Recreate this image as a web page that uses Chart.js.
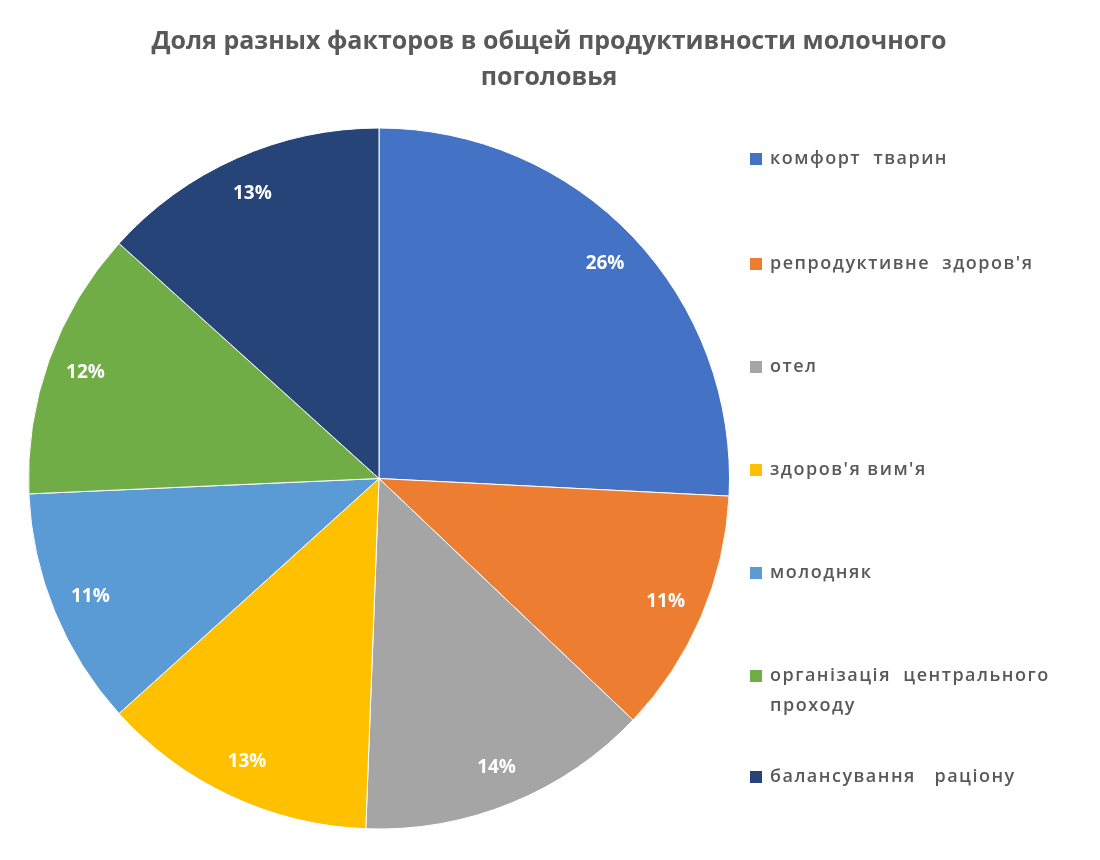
<!DOCTYPE html>
<html>
<head>
<meta charset="utf-8">
<script src="https://cdn.jsdelivr.net/npm/chart.js@4/dist/chart.umd.min.js"></script>
<style>
html,body{margin:0;padding:0;background:#fff;}
#wrap{width:1100px;height:860px;position:relative;}
</style>
</head>
<body>
<div id="wrap"><canvas id="c" width="1100" height="860"></canvas></div>
<script>
const titleLines = ["Доля разных факторов в общей продуктивности молочного", "поголовья"];
const categories = ["комфорт  тварин", "репродуктивне  здоров'я", "отел", "здоров'я вим'я", "молодняк", "організація  центрального проходу", "балансування   раціону"];
const legendLines = [["комфорт  тварин"], ["репродуктивне  здоров'я"], ["отел"], ["здоров'я вим'я"], ["молодняк"], ["організація  центрального", "проходу"], ["балансування   раціону"]];
const values = [25.8, 11.3, 13.5, 12.7, 11.0, 12.4, 13.3];
const colors = ["#4472C4", "#ED7D31", "#A5A5A5", "#FFC000", "#5B9BD5", "#70AD47", "#264478"];

const drawExtras = {
  id: 'drawExtras',
  afterDatasetsDraw(chart) {
    const ctx = chart.ctx;
    const meta = chart.getDatasetMeta(0);
    const total = values.reduce((a, b) => a + b, 0);
    ctx.save();
    ctx.font = 'bold 19px "Open Sans"';
    ctx.fillStyle = '#ffffff';
    ctx.textAlign = 'center';
    ctx.textBaseline = 'middle';
    meta.data.forEach((arc, i) => {
      const p = arc.getProps(['x', 'y', 'startAngle', 'endAngle', 'outerRadius'], true);
      const mid = (p.startAngle + p.endAngle) / 2;
      const r = p.outerRadius * 0.89;
      const pct = Math.round(values[i] / total * 100 + 1e-6) + '%';
      ctx.fillText(pct, p.x + Math.cos(mid) * r, p.y + Math.sin(mid) * r);
    });
    ctx.restore();
  },
  afterDraw(chart) {
    const ctx = chart.ctx;
    ctx.save();
    // title
    ctx.font = 'bold 25px "Open Sans"';
    ctx.fillStyle = '#595959';
    ctx.textAlign = 'center';
    ctx.textBaseline = 'middle';
    ctx.fillText(titleLines[0], 549, 42);
    ctx.fillText(titleLines[1], 549, 78);
    // legend
    const ys = [159, 264, 367, 470, 573, 676, 777];
    ctx.font = '600 18px "Open Sans"';
    ctx.letterSpacing = '1.5px';
    ctx.textAlign = 'left';
    legendLines.forEach((lines, i) => {
      ctx.fillStyle = colors[i];
      ctx.fillRect(750, ys[i] - 6, 12, 12);
      ctx.fillStyle = '#595959';
      lines.forEach((t, j) => ctx.fillText(t, 770, ys[i] + j * 30));
    });
    ctx.restore();
  }
};

new Chart(document.getElementById('c'), {
  type: 'pie',
  data: {
    labels: categories,
    datasets: [{
      data: values,
      backgroundColor: colors,
      borderColor: '#ffffff',
      borderWidth: 1
    }]
  },
  options: {
    responsive: false,
    animation: false,
    layout: { padding: { top: 127, bottom: 30, left: 28, right: 370 } },
    plugins: {
      legend: { display: false },
      title: { display: false },
      tooltip: { enabled: false }
    }
  },
  plugins: [drawExtras]
});
</script>
</body>
</html>
